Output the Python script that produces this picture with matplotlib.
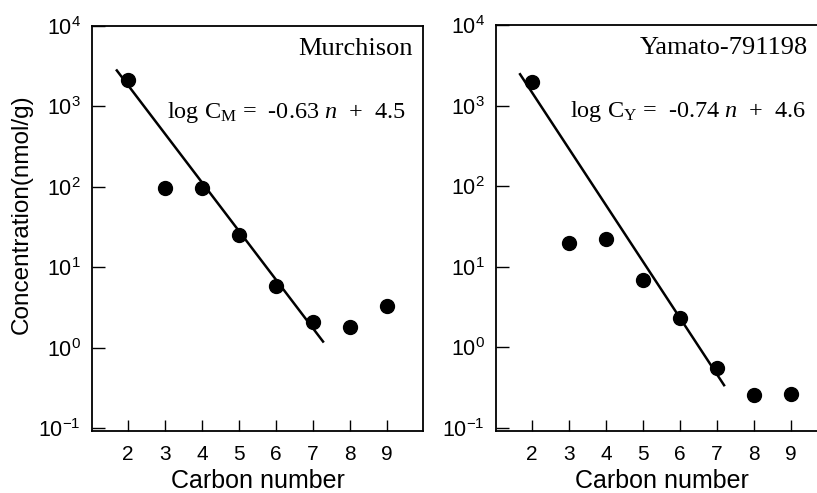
import matplotlib
matplotlib.use("Agg")
from matplotlib import pyplot as plt
from matplotlib.ticker import FixedLocator, NullLocator

plt.rcParams['font.family'] = ['Liberation Sans', 'DejaVu Sans']
plt.rcParams['mathtext.fontset'] = 'custom'
plt.rcParams['mathtext.rm'] = 'Liberation Serif'
plt.rcParams['mathtext.it'] = 'Liberation Serif:italic'
plt.rcParams['mathtext.sf'] = 'Liberation Sans'

# data
carbon = [2, 3, 4, 5, 6, 7, 8, 9]
murchison = [2140, 98, 98, 25, 5.9, 2.1, 1.78, 3.3]
yamato = [1950, 20, 22, 6.9, 2.3, 0.56, 0.26, 0.265]

# fitted lines (end points)
murch_fit_n = [1.70, 7.27]
murch_fit_c = [2800, 1.19]
yam_fit_n = [1.68, 7.19]
yam_fit_c = [2450, 0.34]

yticks = [1e-1, 1e0, 1e1, 1e2, 1e3, 1e4]
ytick_labels = [r'$\mathregular{10^{-1}}$', r'$\mathregular{10^{0}}$', r'$\mathregular{10^{1}}$',
                r'$\mathregular{10^{2}}$', r'$\mathregular{10^{3}}$', r'$\mathregular{10^{4}}$']

fig = plt.figure(figsize=(8.17, 4.93), dpi=100)
W, H = 817, 493

def make_axes(left_px, top_px):
    return fig.add_axes([left_px / W, (H - 431) / H, 331 / W, (431 - top_px) / H])

ax1 = make_axes(92, 26)
ax2 = make_axes(496, 25)

panels = [
    (ax1, murchison, murch_fit_n, murch_fit_c, 'Murchison',
     r'log C$_\mathrm{M}$ =  -0.63 $\mathit{n}$  +  4.5', 0.970, 0.227),
    (ax2, yamato, yam_fit_n, yam_fit_c, 'Yamato-791198',
     r'log C$_\mathrm{Y}$ =  -0.74 $\mathit{n}$  +  4.6', 0.943, 0.224),
]

for ax, vals, fn, fc, name, eq, name_x, eq_x in panels:
    ax.set_yscale('log')
    ax.plot(fn, fc, color='black', lw=1.8)
    ax.plot(carbon, vals, 'o', color='black', markersize=10)
    ax.set_xlim(1.03, 9.97)
    ax.set_ylim(10 ** -1.037, 1e4)
    ax.set_xticks(carbon)
    ax.set_xticklabels([str(c) for c in carbon])
    ax.yaxis.set_major_locator(FixedLocator(yticks))
    ax.yaxis.set_minor_locator(NullLocator())
    ax.set_yticklabels(ytick_labels)
    ax.tick_params(axis='y', direction='in', length=9, width=1, pad=8, labelsize=15.5)
    ax.tick_params(axis='x', direction='in', length=8, width=1, pad=10, labelsize=15)
    for s in ax.spines.values():
        s.set_linewidth(1.3)
    ax.set_xlabel('Carbon number', fontsize=18, labelpad=4)
    ax.text(name_x, 0.928, name, transform=ax.transAxes, ha='right', va='baseline',
            fontsize=19, family='Liberation Serif')
    ax.text(eq_x, 0.773, eq, transform=ax.transAxes, ha='left', va='baseline',
            fontsize=17.5, family='Liberation Serif')

fig.text(22 / W, 1 - 214 / H, 'Concentration(nmol/g)', rotation=90,
         ha='center', va='center', fontsize=17.5)

fig.savefig('out.png', dpi=100)
